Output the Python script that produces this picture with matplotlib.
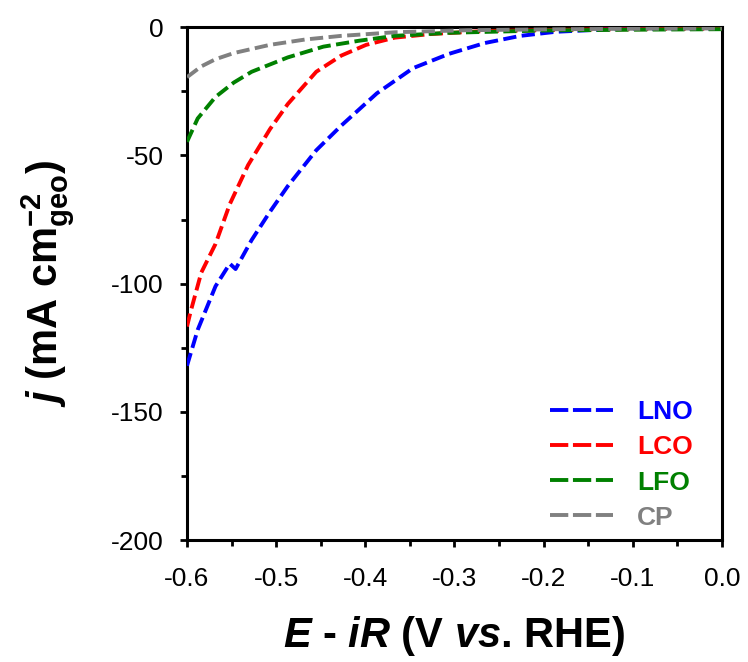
import matplotlib
matplotlib.use("Agg")
import matplotlib.pyplot as plt
from matplotlib.lines import Line2D
from matplotlib.ticker import MultipleLocator, FormatStrFormatter

plt.rcParams['font.family'] = ['Liberation Sans', 'DejaVu Sans']
plt.rcParams['axes.unicode_minus'] = False
plt.rcParams['mathtext.fontset'] = 'custom'
plt.rcParams['mathtext.rm'] = 'Liberation Sans'
plt.rcParams['mathtext.it'] = 'Liberation Sans:italic'
plt.rcParams['mathtext.bf'] = 'Liberation Sans:bold'
plt.rcParams['mathtext.bfit'] = 'Liberation Sans:bold:italic'

# LSV curves (E in V vs RHE, j in mA cm^-2)
lno_e = [-0.600, -0.588, -0.568, -0.552, -0.5455, -0.5275, -0.507, -0.487, -0.455,
         -0.427, -0.387, -0.3465, -0.306, -0.266, -0.226, -0.186, -0.125, -0.05, 0.0]
lno_j = [-132, -118, -101, -92.2, -94.3, -83, -72, -62, -48,
         -38.4, -25.8, -16, -10.4, -6.2, -3.4, -1.8, -0.8, -0.6, -0.5]

lco_e = [-0.600, -0.596, -0.584, -0.568, -0.552, -0.5315, -0.507, -0.487, -0.455,
         -0.427, -0.399, -0.367, -0.327, -0.266, -0.15, 0.0]
lco_j = [-116.7, -111, -95.7, -84.5, -69, -53.8, -39.8, -30, -17.4,
         -11.1, -6.9, -4.1, -2.7, -1.5, -0.9, -0.6]

lfo_e = [-0.600, -0.588, -0.568, -0.5475, -0.5275, -0.487, -0.447, -0.407,
         -0.367, -0.306, -0.2, -0.1, 0.0]
lfo_j = [-44.7, -35.6, -27.2, -21.6, -17.4, -11.8, -7.6, -5.3,
         -3.4, -2.2, -1.3, -1.0, -0.8]

cp_e = [-0.600, -0.584, -0.568, -0.5475, -0.507, -0.467, -0.427, -0.367,
        -0.286, -0.18, -0.08, 0.0]
cp_j = [-19.5, -15.3, -12.5, -10.1, -6.9, -4.8, -3.4, -2.0,
        -1.2, -0.8, -0.6, -0.5]

series = [("LNO", lno_e, lno_j, "#0000ff"),
          ("LCO", lco_e, lco_j, "#ff0000"),
          ("LFO", lfo_e, lfo_j, "#008000"),
          ("CP", cp_e, cp_j, "#808080")]

fig = plt.figure(figsize=(7.48, 6.62), dpi=100)
ax = fig.add_axes([0.25, 0.184, 0.715, 0.775])

handles = []
for name, e, j, color in series:
    ax.plot(e, j, color=color, lw=2.8, linestyle=(0, (3.4, 1.4)), zorder=3)
    # legend keys use longer dashes, as in the original
    handles.append(Line2D([], [], color=color, lw=2.8,
                          linestyle=(0, (4.7, 1.2)), label=name))

ax.set_xlim(-0.6, 0.0)
ax.set_ylim(-200, 0)
ax.xaxis.set_major_locator(MultipleLocator(0.1))
ax.xaxis.set_minor_locator(MultipleLocator(0.05))
ax.yaxis.set_major_locator(MultipleLocator(50))
ax.yaxis.set_minor_locator(MultipleLocator(25))
ax.xaxis.set_major_formatter(FormatStrFormatter('%.1f'))
ax.yaxis.set_major_formatter(FormatStrFormatter('%d'))

for sp in ax.spines.values():
    sp.set_linewidth(2.2)
ax.tick_params(which='both', direction='out', width=2, top=False, right=False,
               labelsize=19)
ax.tick_params(axis='y', which='major', length=5, pad=12)
ax.tick_params(axis='x', which='major', length=5, pad=14)
ax.tick_params(which='minor', length=4.5)

ax.set_xlabel(r'$\mathbfit{E}$ - $\mathbfit{iR}$ (V $\mathbfit{vs}$. RHE)',
              fontsize=30, fontweight='bold')
ax.set_ylabel(r'$\mathbfit{j}$ (mA cm$^{\mathbf{-2}}_{\mathbf{geo}}$)',
              fontsize=30, fontweight='bold')
ax.xaxis.set_label_coords(0.5, -0.143)
ax.yaxis.set_label_coords(-0.205, 0.5)

ax.legend(handles=handles, loc='lower right', frameon=False,
          prop={'weight': 'bold', 'size': 19}, handlelength=2.4,
          handletextpad=0.9, labelspacing=0.42, labelcolor='linecolor',
          borderaxespad=0.0, bbox_to_anchor=(0.965, 0.0))

fig.savefig("out.png", dpi=100)
